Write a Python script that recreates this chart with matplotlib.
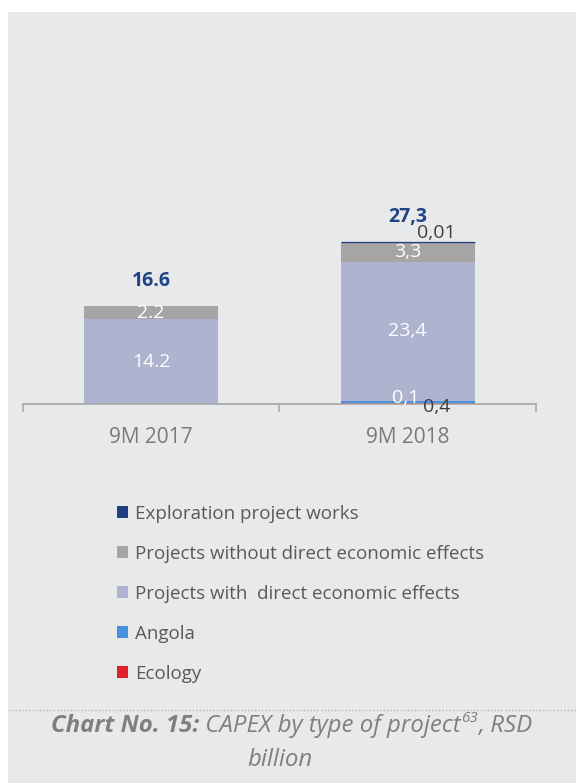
import matplotlib
matplotlib.use('Agg')
import matplotlib.pyplot as plt
from matplotlib.patches import Rectangle
from matplotlib.lines import Line2D

# CAPEX by type of project, RSD billion
periods = ['9M 2017', '9M 2018']
decimal_sep = ['.', ',']

ecology = [0.0, 0.1]
angola = [0.0, 0.4]
with_effects = [14.2, 23.4]
without_effects = [2.2, 3.3]
exploration = [0.0, 0.01]
totals = [16.6, 27.3]

series_names = ['Ecology', 'Angola', 'Projects with  direct economic effects',
                'Projects without direct economic effects', 'Exploration project works']
series_values = [ecology, angola, with_effects, without_effects, exploration]
series_colors = ['#E3202A', '#4A8FE0', '#AEB4CF', '#A5A5A5', '#1F3E7B']

# label tweaks for the thin segments: (series index, period index) -> (dx px, dy px, color)
label_moves = {
    (0, 1): (-2, 6, 'white'),
    (1, 1): (29, -5, '#404040'),
    (4, 1): (29, 9, '#404040'),
}

plt.rcParams['font.family'] = ['Open Sans', 'DejaVu Sans']

W, H = 576, 783
fig = plt.figure(figsize=(W / 100, H / 100), dpi=100)
fig.patch.set_facecolor('white')
fig.add_artist(Rectangle((8 / W, 0), 1 - 8 / W, (H - 12) / H, transform=fig.transFigure,
                         facecolor='#E8E9EB', edgecolor='none', zorder=0))

base_y = 403.8
px_per_unit = 5.95
ax_left, ax_right = 22.7, 536.0
ax = fig.add_axes([ax_left / W, (H - base_y) / H, (ax_right - ax_left) / W, (base_y - 12) / H])
ax.set_facecolor('none')
ax.set_xlim(-0.5, 1.5)
ax.set_ylim(0, (base_y - 12) / px_per_unit)

x = list(range(len(periods)))
bar_w = 0.522
bottom = [0.0] * len(periods)
bars = []
for si, (name, vals, col) in enumerate(zip(series_names, series_values, series_colors)):
    # the exploration sliver gets an outline so it stays visible
    lw = [0.9 if (si == 4 and v > 0) else 0 for v in vals]
    b = ax.bar(x, vals, bar_w, bottom=bottom, color=col, edgecolor=col, linewidth=lw,
               label=name, zorder=2)
    bars.append(b)
    for pi, v in enumerate(vals):
        if v == 0:
            continue
        dx, dy, tc = label_moves.get((si, pi), (0, 0, 'white'))
        txt = f'{v:g}'.replace('.', decimal_sep[pi])
        ax.annotate(txt, (pi, bottom[pi] + v / 2), xytext=(dx, dy), textcoords='offset pixels',
                    ha='center', va='center', fontsize=14, color=tc, zorder=4)
    bottom = [b0 + v for b0, v in zip(bottom, vals)]

# totals above the stacks
for pi, t in enumerate(totals):
    ax.annotate(f'{t:g}'.replace('.', decimal_sep[pi]), (pi, bottom[pi]), xytext=(0, 25),
                textcoords='offset pixels', ha='center', va='center', fontsize=14,
                fontweight='bold', color='#1F4483', zorder=4)

for s in ['top', 'left', 'right']:
    ax.spines[s].set_visible(False)
ax.spines['bottom'].set_color('#A6A6A6')
ax.spines['bottom'].set_linewidth(1.2)
ax.set_yticks([])
ax.set_xticks(x)
ax.set_xticklabels(periods, fontsize=15, color='#7A7A7A')
ax.tick_params(axis='x', which='major', length=0, pad=16.5)
ax.set_xticks([-0.5, 0.5, 1.5], minor=True)
ax.tick_params(axis='x', which='minor', length=5.5, width=1.1, color='#A6A6A6')

# legend, top series first
handles = bars[::-1]
fig.legend(handles, [h.get_label() for h in handles], loc='upper left',
           bbox_to_anchor=(116.7 / W, (H - 505) / H), frameon=False, fontsize=13.5,
           handlelength=0.62, handleheight=0.62, handletextpad=0.38, labelspacing=1.17,
           borderpad=0, borderaxespad=0, labelcolor='#595959')

# caption
fig.add_artist(Line2D([8 / W, 1], [(H - 710) / H] * 2, transform=fig.transFigure,
                      color='#B5B5B5', linewidth=1, linestyle=(0, (1, 1.5))))

cap_color = '#7F7F7F'
cap_size = 17.3
pieces = [
    ('Chart No. 15:', dict(fontsize=cap_size, style='italic', weight='bold'), 0),
    (' CAPEX by type of project', dict(fontsize=cap_size, style='italic'), 0),
    ('63', dict(fontsize=11, style='italic'), 7),
    (', RSD', dict(fontsize=cap_size, style='italic'), 0),
]
line1_y = H - 726
texts = []
for s, kw, rise in pieces:
    t = fig.text(0, (line1_y + rise) / H, s, color=cap_color, va='center', ha='left', **kw)
    texts.append(t)
fig.canvas.draw()
renderer = fig.canvas.get_renderer()
widths = [t.get_window_extent(renderer).width for t in texts]
xpos = 291.5 - sum(widths) / 2
for t, w in zip(texts, widths):
    t.set_x(xpos / W)
    xpos += w
fig.text(280 / W, (H - 760) / H, 'billion', color=cap_color, fontsize=cap_size, style='italic',
         ha='center', va='center')

fig.savefig('out.png', dpi=100, facecolor=fig.get_facecolor())
